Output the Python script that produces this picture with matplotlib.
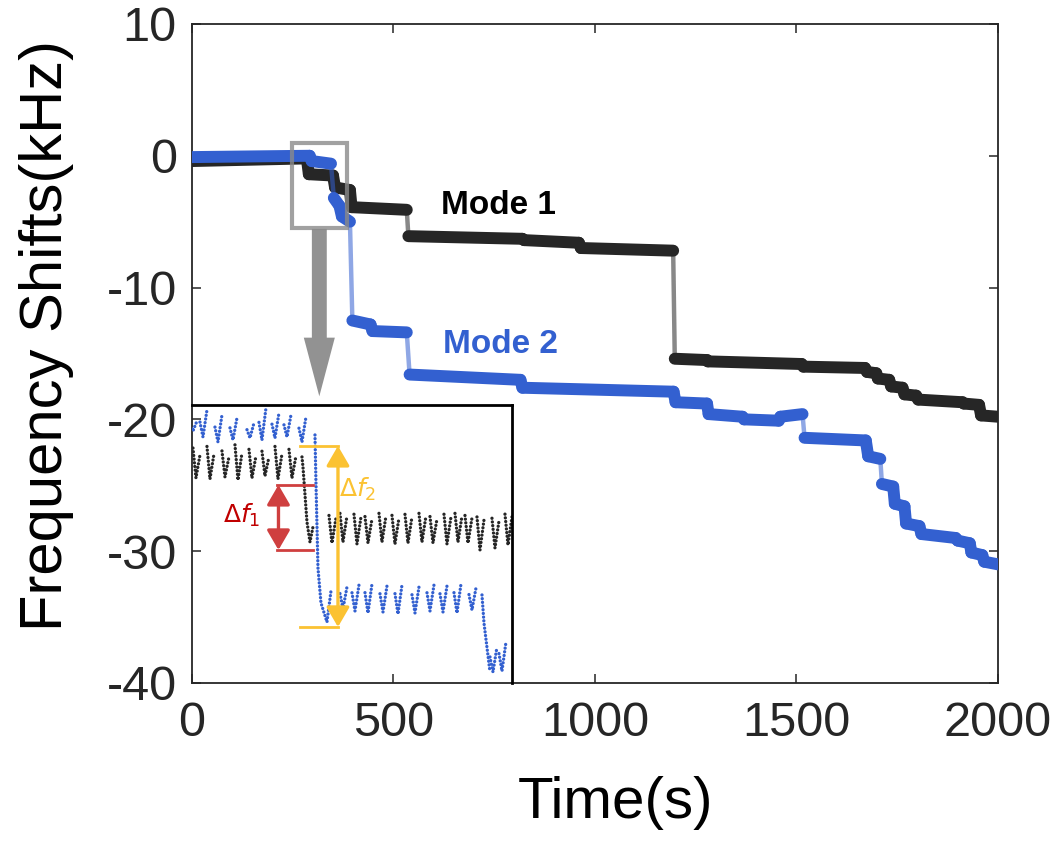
import matplotlib
matplotlib.use("Agg")
import matplotlib.pyplot as plt
from matplotlib.patches import Rectangle, FancyArrow

plt.rcParams['font.family'] = ['Liberation Sans', 'DejaVu Sans']
plt.rcParams['axes.unicode_minus'] = False

BLACK = '#262626'
BLUE = '#3360d0'

# Mode 1: flat runs of the frequency shift (start time, end time, start value, end value)
m1_t0 = [0, 290, 355, 396, 537, 824, 965, 1198, 1280, 1517, 1675, 1702, 1735, 1768, 1802, 1915, 1958]
m1_t1 = [285, 350, 392, 533, 820, 960, 1194, 1278, 1513, 1670, 1698, 1730, 1763, 1797, 1912, 1953, 2000]
m1_v0 = [-0.4, -1.4, -2.4, -3.9, -6.1, -6.4, -7.0, -15.4, -15.6, -16.0, -16.4, -16.9, -17.5, -18.1, -18.5, -18.8, -19.7]
m1_v1 = [-0.2, -1.5, -2.6, -4.1, -6.3, -6.6, -7.2, -15.5, -15.8, -16.1, -16.5, -17.0, -17.6, -18.2, -18.7, -18.9, -19.8]

# Mode 2
m2_t0 = [0, 297, 352, 372, 398, 448, 540, 820, 1200, 1282, 1370, 1460, 1520, 1678, 1712, 1744, 1772, 1810, 1900, 1934, 1966]
m2_t1 = [292, 345, 366, 392, 443, 533, 815, 1195, 1278, 1366, 1456, 1515, 1672, 1708, 1740, 1768, 1805, 1895, 1930, 1961, 2000]
m2_v0 = [-0.1, -0.4, -3.2, -4.6, -12.5, -13.3, -16.6, -17.6, -18.7, -19.6, -20.0, -19.8, -21.4, -22.8, -24.9, -26.4, -27.9, -28.7, -29.2, -30.1, -30.8]
m2_v1 = [0.0, -0.6, -3.8, -5.0, -12.8, -13.4, -17.0, -17.9, -18.8, -19.8, -20.1, -19.6, -21.6, -23.0, -25.1, -26.6, -28.1, -29.0, -29.4, -30.3, -31.0]

x_ticks = [0, 500, 1000, 1500, 2000]
y_ticks = [-40, -30, -20, -10, 0, 10]

# zoomed window (inset units), teeth of the raw readout: x of each minimum, minimum, and peak after it
in_b1_x = [1, 11, 26, 41, 58, 70, 83, 95, 110]
in_b1_lo = [252, 246, 241, 243, 245, 243, 245, 246, 241]
in_b1_hi = [262, 273, 268, 265, 260, 275, 270, 268, 266]
in_k1_x = [4, 18, 33, 46, 60, 73, 86, 100]
in_k1_lo = [205, 204, 206, 203, 205, 207, 204, 205]
in_k1_hi = [228, 229, 226, 230, 227, 226, 229, 227]
in_k2_x = [140, 151, 165, 176, 190, 203, 216, 230, 241, 255, 266, 276, 288, 303, 316]
in_k2_lo = [140, 141, 139, 140, 141, 139, 140, 141, 140, 139, 141, 140, 133, 135, 138]
in_k2_hi = [165, 167, 166, 164, 167, 165, 166, 167, 164, 166, 167, 165, 163, 162, 166]
in_b2_x = [151, 163, 176, 191, 206, 223, 238, 251, 265, 280]
in_b2_lo = [74, 72, 70, 71, 69, 70, 72, 71, 70, 73]
in_b2_hi = [96, 98, 99, 97, 98, 96, 98, 97, 99, 95]
in_b3_x = [301, 310]
in_b3_lo = [11, 12]
in_b3_hi = [36, 41]
# the two drops inside the window
in_k_drop_x = [110, 111, 115, 118, 121]
in_k_drop_y = [226, 216, 161, 141, 156]
in_b_drop_x = [123, 124, 126, 129, 135, 139]
in_b_drop_y = [248, 200, 115, 80, 61, 92]
in_b_drop2_x = [290, 292, 298]
in_b_drop2_y = [88, 60, 11]

fig = plt.figure(figsize=(10.6, 8.44), dpi=100)
ax = fig.add_axes([0.1811, 0.1908, 0.7604, 0.7808])


def draw_mode(t0, t1, v0, v1, color, z):
    for i in range(len(t0)):
        ax.plot([t0[i], t1[i]], [v0[i], v1[i]], color=color, lw=8.6,
                solid_capstyle='round', zorder=z)
        if i + 1 < len(t0):
            jump = abs(v0[i + 1] - v1[i])
            if jump < 1.5:
                # small steps keep the full trace width
                ax.plot([t1[i], t0[i + 1]], [v1[i], v0[i + 1]], color=color,
                        lw=8.6, solid_capstyle='round', zorder=z)
            else:
                ax.plot([t1[i], t0[i + 1]], [v1[i], v0[i + 1]], color=color,
                        lw=3.2, alpha=0.55, solid_capstyle='butt', zorder=z - 0.5)


draw_mode(m1_t0, m1_t1, m1_v0, m1_v1, BLACK, 3)
draw_mode(m2_t0, m2_t1, m2_v0, m2_v1, BLUE, 4)

ax.text(760, -3.8, 'Mode 1', fontsize=24, fontweight='bold', color='black',
        ha='center', va='center')
ax.text(765, -14.3, 'Mode 2', fontsize=24, fontweight='bold', color=BLUE,
        ha='center', va='center')

# zoom window and pointer
ax.add_patch(Rectangle((247, -5.5), 137, 6.5, fill=False, ec='#8a8a8a', lw=3,
                       alpha=0.8, zorder=6))
ax.add_patch(FancyArrow(316, -5.55, 0, -12.7, width=37, head_width=77,
                        head_length=4.45, length_includes_head=True,
                        color='#929292', lw=0, zorder=5))

ax.set_xlim(0, 2000)
ax.set_ylim(-40, 10)
ax.set_xticks(x_ticks)
ax.set_yticks(y_ticks)
ax.tick_params(direction='in', length=6.5, width=1.1, top=True, right=True,
               labelsize=35, colors=BLACK, pad=11)
ax.tick_params(axis='x', pad=13)
for s in ax.spines.values():
    s.set_linewidth(1.3)
    s.set_color(BLACK)
ax.set_xlabel('Time(s)', fontsize=42)
ax.set_ylabel('Frequency Shifts(kHz)', fontsize=43)
ax.xaxis.set_label_coords(0.526, -0.141)
ax.yaxis.set_label_coords(-0.146, 0.528)

# inset with the raw readout around the first step
axi = fig.add_axes([0.1811, 0.1908, 0.3019, 0.3294])
axi.set_facecolor('none')
axi.set_xlim(0, 320)
axi.set_ylim(0, 278)
axi.set_xticks([])
axi.set_yticks([])
for side in ['left', 'bottom']:
    axi.spines[side].set_visible(False)
for side in ['top', 'right']:
    axi.spines[side].set_linewidth(2)
    axi.spines[side].set_color('black')

dots = dict(lw=2.4, linestyle=(0, (0.01, 1.1)), dash_capstyle='round')


def draw_teeth(xs, lo, hi, color, left_frac):
    for x, y0, y1 in zip(xs, lo, hi):
        yl = y0 + left_frac * (y1 - y0)
        axi.plot([x - 3, x, x + 4], [yl, y0, y1], color=color, **dots)


draw_teeth(in_b1_x, in_b1_lo, in_b1_hi, BLUE, 0.55)
draw_teeth(in_k1_x, in_k1_lo, in_k1_hi, BLACK, 1.3)
draw_teeth(in_k2_x, in_k2_lo, in_k2_hi, BLACK, 1.1)
draw_teeth(in_b2_x, in_b2_lo, in_b2_hi, BLUE, 0.7)
draw_teeth(in_b3_x, in_b3_lo, in_b3_hi, BLUE, 0.6)
axi.plot(in_k_drop_x, in_k_drop_y, color=BLACK, **dots)
axi.plot(in_b_drop_x, in_b_drop_y, color=BLUE, **dots)
axi.plot(in_b_drop2_x, in_b_drop2_y, color=BLUE, **dots)

RED = '#cf3f3f'
GOLD = '#fbc232'
axi.plot([85, 121], [198, 198], color=RED, lw=2)
axi.plot([85, 121], [133, 133], color=RED, lw=2)
axi.annotate('', xy=(86.5, 198), xytext=(86.5, 133),
             arrowprops=dict(arrowstyle='<|-|>,head_length=0.6,head_width=0.35',
                             mutation_scale=20, lw=2.4, color=RED,
                             shrinkA=0, shrinkB=0))
axi.text(50, 168, r'$\Delta f_1$', color='#c00000', fontsize=18,
         ha='center', va='center')

axi.plot([108, 146], [237, 237], color=GOLD, lw=2)
axi.plot([108, 146], [56, 56], color=GOLD, lw=2)
axi.annotate('', xy=(146, 237), xytext=(146, 56),
             arrowprops=dict(arrowstyle='<|-|>,head_length=0.6,head_width=0.35',
                             mutation_scale=20, lw=2.4, color=GOLD,
                             shrinkA=0, shrinkB=0))
axi.text(166, 194, r'$\Delta f_2$', color=GOLD, fontsize=18,
         ha='center', va='center')

fig.savefig('out.png', dpi=100)
